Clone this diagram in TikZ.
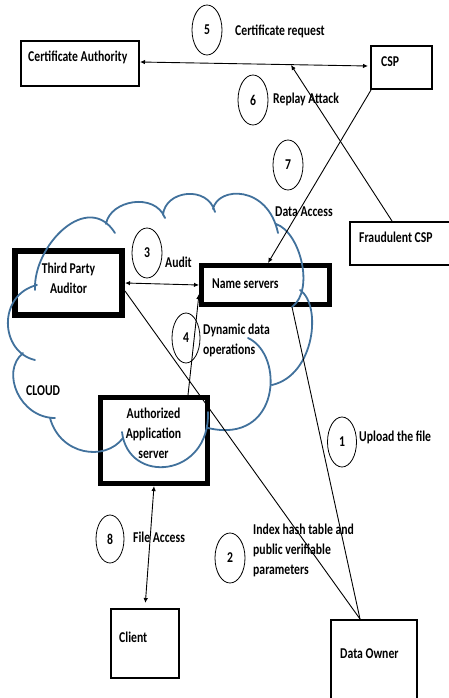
\documentclass[tikz,border=0pt]{standalone}
\usepackage{fontspec}
\newfontfamily\lblfont{Carlito}[FakeStretch=0.78]
\usetikzlibrary{arrows.meta,calc,shapes.geometric}
\definecolor{cloudblue}{RGB}{65,113,156}
\begin{document}
\begin{tikzpicture}[x=1pt,y=-1pt,
  txt/.style={font=\lblfont\bfseries\fontsize{15}{20}\selectfont, inner sep=0pt},
  lbl/.style={txt, anchor=west, align=left},
  thinbox/.style={draw, line width=2pt, inner sep=0pt},
  thickbox/.style={draw, line width=#1, inner sep=0pt},
  circ/.style={draw, ellipse, line width=0.8pt, inner sep=0pt, minimum width=30pt, minimum height=50pt, txt},
  conn/.style={line width=0.9pt},
  arr/.style={conn, -{Latex[length=5pt,width=4.5pt]}},
  dbl/.style={conn, {Latex[length=5pt,width=4.5pt]}-{Latex[length=5pt,width=4.5pt]}},
  cloudline/.style={draw=cloudblue, line width=1.8pt, line cap=round}
]
\useasboundingbox (0,0) rectangle (448,698);

% boxes
\node[thinbox, minimum width=118pt, minimum height=45pt] (ca) at (80,63.5) {};
\node[thinbox, minimum width=61pt, minimum height=43pt] (csp) at (401.5,67.5) {};
\node[thinbox, minimum width=106pt, minimum height=43pt] (fcsp) at (403,243.5) {};
\node[thickbox=6pt, minimum width=107pt, minimum height=64pt] (tpa) at (68.5,283) {};
\node[thickbox=5pt, minimum width=128pt, minimum height=39pt] (ns) at (265.5,285) {};
\node[thickbox=5pt, minimum width=107pt, minimum height=86pt] (aas) at (154,440.5) {};
\node[thinbox, minimum width=68pt, minimum height=69pt] (client) at (145,643.5) {};
\node[thinbox, minimum width=86pt, minimum height=92pt] (do) at (374,666) {};

% box texts
\node[lbl] (tca) at (28,57) {Certificate Authority};
\node[lbl] (tcsp) at (381,62) {CSP};
\node[lbl] (tfcsp) at (359,237) {Fraudulent CSP};
\node[txt, align=center] (ttpa) at (68.5,278.5) {Third Party\\Auditor};
\node[lbl] (tns) at (212,284) {Name servers};
\node[txt, align=center] (taas) at (153.5,433.5) {Authorized\\Application\\server};
\node[lbl] (tclient) at (119,637) {Client};
\node[lbl] (tdo) at (340,654) {Data Owner};

% cloud
\path[cloudline]
  (35,290) .. controls (33,245) and (88,190) .. (115,233)
  (106,224) .. controls (110,200) and (155,192) .. (165,218)
  (163,215) .. controls (165,190) and (208,185) .. (215,212)
  (213,209) .. controls (218,186) and (268,185) .. (278,233)
  (276,224) .. controls (300,232) and (315,290) .. (292,307)
  (300,290) .. controls (322,305) and (315,375) .. (272,385)
  (248,338) .. controls (285,355) and (280,445) .. (208,428)
  (208,412) .. controls (210,478) and (128,485) .. (122,432)
  (123,438) .. controls (105,462) and (60,455) .. (50,418)
  (55,418) .. controls (20,418) and (0,372) .. (23,353)
  (35,360) .. controls (0,352) and (-3,295) .. (37,285);
\node[lbl] (tcloud) at (26,391) {CLOUD};

% numbered ellipses
\node[circ] (e5) at (207,30) {5};
\node[circ] (e6) at (253,100) {6};
\node[circ] (e7) at (288,165) {7};
\node[circ] (e3) at (147,253) {3};
\node[circ, minimum width=28pt] (e4) at (186,338) {4};
\node[circ, minimum width=29pt] (e1) at (342,442) {1};
\node[circ, minimum width=28pt, minimum height=48pt] (e8) at (110,539) {8};
\node[circ] (e2) at (230,558) {2};

% labels
\node[lbl] (l5) at (235,31) {Certificate request};
\node[lbl] (l6) at (273,99) {Replay Attack};
\node[lbl] (l7) at (275,212) {Data Access};
\node[lbl] (l3) at (165,262) {Audit};
\node[lbl] (l4) at (203,340.5) {Dynamic data\\operations};
\node[lbl] (l1) at (359,437) {Upload the file};
\node[lbl] (l8) at (133,537) {File Access};
\node[lbl] (l2) at (253,550) {Index hash table and\\public verifiable\\parameters};

% connectors
\coordinate (rp) at (291,65);
\draw[dbl] ([yshift=1.5pt]ca.east) -- ([yshift=1.5pt,xshift=-2pt]csp.west);
\draw[arr] ([xshift=-11pt]fcsp.north) -- (rp);
\draw[arr] ([xshift=1pt]csp.south west) -- ([xshift=2.5pt]ns.north);
\draw[dbl] (tpa.east) -- (ns.west);
\draw[arr] ([xshift=34pt]aas.north) -- ([yshift=-9pt]ns.west);
\draw[conn] ([yshift=-8pt]tpa.east) -- ([xshift=-14pt]do.north);
\draw[conn] ([xshift=26.5pt]ns.south) -- ([xshift=-14pt]do.north);
\draw[dbl, shorten >=5pt] (aas.south) -- (client.north);
\end{tikzpicture}
\end{document}
